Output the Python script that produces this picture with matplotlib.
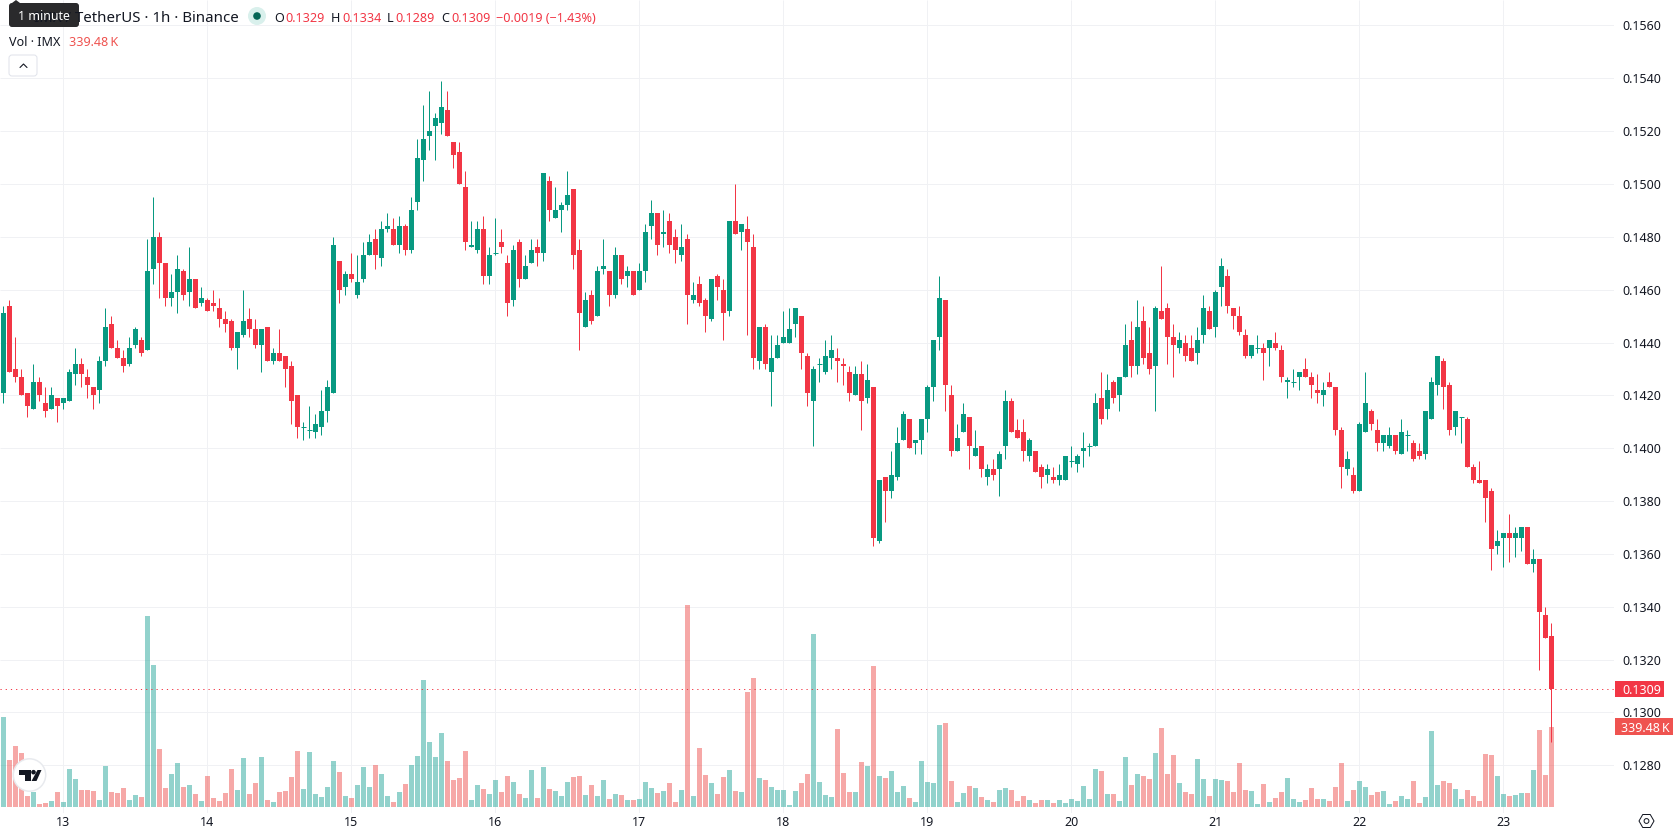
import numpy as np
import matplotlib
matplotlib.use("Agg")
import matplotlib.pyplot as plt
from matplotlib.patches import Circle, FancyBboxPatch, Polygon, Rectangle, RegularPolygon

plt.rcParams["font.family"] = ["Noto Sans", "DejaVu Sans"]

opens = [
    0.1421, 0.1454, 0.1430, 0.1427, 0.1421, 0.1415, 0.1425, 0.1417, 0.1415, 0.1419,
    0.1417, 0.1418, 0.1428, 0.1432, 0.1427, 0.1423, 0.1422, 0.1433, 0.1447, 0.1438,
    0.1434, 0.1432, 0.1439, 0.1441, 0.1437, 0.1468, 0.1480, 0.1470, 0.1457, 0.1459,
    0.1467, 0.1459, 0.1464, 0.1455, 0.1456, 0.1455, 0.1453, 0.1449, 0.1448, 0.1438,
    0.1443, 0.1449, 0.1445, 0.1439, 0.1446, 0.1433, 0.1436, 0.1435, 0.1431, 0.1420,
    0.1408, 0.1407, 0.1406, 0.1408, 0.1414, 0.1421, 0.1471, 0.1461, 0.1466, 0.1458,
    0.1464, 0.1473, 0.1479, 0.1472, 0.1483, 0.1483, 0.1477, 0.1484, 0.1475, 0.1493,
    0.1509, 0.1518, 0.1522, 0.1523, 0.1528, 0.1516, 0.1512, 0.1499, 0.1476, 0.1475,
    0.1483, 0.1465, 0.1474, 0.1478, 0.1470, 0.1456, 0.1478, 0.1464, 0.1470, 0.1476,
    0.1474, 0.1501, 0.1487, 0.1490, 0.1492, 0.1498, 0.1475, 0.1446, 0.1458, 0.1450,
    0.1468, 0.1467, 0.1458, 0.1473, 0.1465, 0.1467, 0.1460, 0.1467, 0.1484, 0.1489,
    0.1481, 0.1486, 0.1480, 0.1473, 0.1479, 0.1456, 0.1462, 0.1456, 0.1449, 0.1465,
    0.1460, 0.1452, 0.1486, 0.1482, 0.1483, 0.1476, 0.1433, 0.1446, 0.1429, 0.1434,
    0.1440, 0.1440, 0.1447, 0.1450, 0.1435, 0.1418, 0.1432, 0.1429, 0.1434, 0.1434,
    0.1432, 0.1429, 0.1420, 0.1428, 0.1419, 0.1423, 0.1365, 0.1389, 0.1384, 0.1389,
    0.1403, 0.1411, 0.1402, 0.1403, 0.1411, 0.1423, 0.1442, 0.1456, 0.1420, 0.1399,
    0.1406, 0.1412, 0.1397, 0.1401, 0.1389, 0.1392, 0.1392, 0.1401, 0.1418, 0.1407,
    0.1406, 0.1397, 0.1399, 0.1393, 0.1390, 0.1389, 0.1388, 0.1388, 0.1395, 0.1394,
    0.1399, 0.1401, 0.1401, 0.1419, 0.1415, 0.1425, 0.1420, 0.1427, 0.1441, 0.1431,
    0.1448, 0.1436, 0.1431, 0.1452, 0.1453, 0.1442, 0.1438, 0.1440, 0.1438, 0.1436,
    0.1443, 0.1452, 0.1446, 0.1461, 0.1465, 0.1453, 0.1450, 0.1443, 0.1435, 0.1438,
    0.1438, 0.1438, 0.1440, 0.1437, 0.1425, 0.1425, 0.1427, 0.1430, 0.1427, 0.1422,
    0.1420, 0.1425, 0.1423, 0.1407, 0.1392, 0.1390, 0.1384, 0.1406, 0.1414, 0.1407,
    0.1402, 0.1401, 0.1405, 0.1398, 0.1405, 0.1402, 0.1399, 0.1398, 0.1411, 0.1424,
    0.1433, 0.1424, 0.1408, 0.1412, 0.1411, 0.1393, 0.1388, 0.1388, 0.1384, 0.1363,
    0.1366, 0.1368, 0.1366, 0.1366, 0.1370, 0.1356, 0.1358, 0.1337, 0.1329,
]
highs = [
    0.1454, 0.1456, 0.1442, 0.1430, 0.1421, 0.1432, 0.1427, 0.1423, 0.1423, 0.1419,
    0.1419, 0.1430, 0.1438, 0.1434, 0.1430, 0.1423, 0.1435, 0.1453, 0.1450, 0.1441,
    0.1437, 0.1442, 0.1446, 0.1442, 0.1479, 0.1495, 0.1482, 0.1470, 0.1466, 0.1473,
    0.1468, 0.1476, 0.1464, 0.1461, 0.1457, 0.1460, 0.1457, 0.1452, 0.1449, 0.1444,
    0.1460, 0.1453, 0.1449, 0.1445, 0.1446, 0.1438, 0.1445, 0.1435, 0.1433, 0.1420,
    0.1410, 0.1416, 0.1413, 0.1422, 0.1426, 0.1480, 0.1471, 0.1467, 0.1474, 0.1473,
    0.1478, 0.1481, 0.1483, 0.1486, 0.1489, 0.1487, 0.1488, 0.1485, 0.1495, 0.1517,
    0.1530, 0.1535, 0.1527, 0.1539, 0.1535, 0.1516, 0.1516, 0.1505, 0.1486, 0.1486,
    0.1488, 0.1476, 0.1487, 0.1483, 0.1473, 0.1477, 0.1479, 0.1473, 0.1479, 0.1479,
    0.1504, 0.1503, 0.1499, 0.1493, 0.1505, 0.1498, 0.1479, 0.1459, 0.1460, 0.1469,
    0.1479, 0.1467, 0.1476, 0.1473, 0.1469, 0.1467, 0.1470, 0.1485, 0.1494, 0.1489,
    0.1490, 0.1489, 0.1483, 0.1485, 0.1481, 0.1463, 0.1465, 0.1457, 0.1464, 0.1466,
    0.1464, 0.1486, 0.1500, 0.1485, 0.1488, 0.1481, 0.1446, 0.1447, 0.1443, 0.1443,
    0.1452, 0.1453, 0.1453, 0.1450, 0.1436, 0.1431, 0.1434, 0.1441, 0.1443, 0.1438,
    0.1434, 0.1431, 0.1431, 0.1433, 0.1432, 0.1423, 0.1388, 0.1389, 0.1399, 0.1408,
    0.1414, 0.1411, 0.1403, 0.1411, 0.1424, 0.1441, 0.1465, 0.1456, 0.1424, 0.1409,
    0.1417, 0.1412, 0.1407, 0.1401, 0.1394, 0.1396, 0.1399, 0.1422, 0.1419, 0.1411,
    0.1411, 0.1404, 0.1399, 0.1394, 0.1394, 0.1393, 0.1394, 0.1397, 0.1401, 0.1398,
    0.1406, 0.1402, 0.1421, 0.1429, 0.1428, 0.1426, 0.1427, 0.1447, 0.1448, 0.1456,
    0.1454, 0.1446, 0.1454, 0.1469, 0.1455, 0.1447, 0.1444, 0.1443, 0.1443, 0.1446,
    0.1458, 0.1454, 0.1460, 0.1472, 0.1468, 0.1453, 0.1454, 0.1445, 0.1439, 0.1443,
    0.1440, 0.1441, 0.1444, 0.1439, 0.1427, 0.1430, 0.1429, 0.1434, 0.1429, 0.1428,
    0.1425, 0.1429, 0.1423, 0.1408, 0.1399, 0.1393, 0.1410, 0.1429, 0.1415, 0.1411,
    0.1405, 0.1408, 0.1405, 0.1411, 0.1407, 0.1403, 0.1402, 0.1414, 0.1427, 0.1435,
    0.1434, 0.1425, 0.1414, 0.1412, 0.1412, 0.1394, 0.1395, 0.1388, 0.1385, 0.1369,
    0.1368, 0.1375, 0.1370, 0.1370, 0.1370, 0.1362, 0.1358, 0.1340, 0.1334,
]
lows = [
    0.1417, 0.1429, 0.1425, 0.1420, 0.1412, 0.1415, 0.1418, 0.1412, 0.1415, 0.1410,
    0.1415, 0.1418, 0.1424, 0.1423, 0.1419, 0.1415, 0.1417, 0.1431, 0.1438, 0.1434,
    0.1429, 0.1431, 0.1438, 0.1435, 0.1437, 0.1462, 0.1457, 0.1454, 0.1454, 0.1451,
    0.1456, 0.1454, 0.1453, 0.1454, 0.1452, 0.1452, 0.1446, 0.1444, 0.1437, 0.1430,
    0.1442, 0.1442, 0.1438, 0.1429, 0.1433, 0.1432, 0.1433, 0.1423, 0.1409, 0.1404,
    0.1403, 0.1404, 0.1404, 0.1405, 0.1410, 0.1421, 0.1455, 0.1458, 0.1463, 0.1457,
    0.1463, 0.1473, 0.1468, 0.1469, 0.1482, 0.1477, 0.1474, 0.1473, 0.1474, 0.1490,
    0.1501, 0.1513, 0.1509, 0.1519, 0.1518, 0.1506, 0.1500, 0.1475, 0.1476, 0.1474,
    0.1462, 0.1462, 0.1473, 0.1474, 0.1450, 0.1454, 0.1461, 0.1464, 0.1470, 0.1469,
    0.1471, 0.1486, 0.1487, 0.1482, 0.1490, 0.1468, 0.1437, 0.1446, 0.1447, 0.1450,
    0.1466, 0.1454, 0.1457, 0.1462, 0.1461, 0.1458, 0.1460, 0.1463, 0.1479, 0.1473,
    0.1476, 0.1474, 0.1470, 0.1471, 0.1447, 0.1455, 0.1454, 0.1444, 0.1448, 0.1456,
    0.1441, 0.1450, 0.1481, 0.1475, 0.1443, 0.1430, 0.1430, 0.1430, 0.1416, 0.1434,
    0.1440, 0.1440, 0.1442, 0.1430, 0.1416, 0.1401, 0.1425, 0.1428, 0.1430, 0.1425,
    0.1424, 0.1418, 0.1420, 0.1407, 0.1417, 0.1363, 0.1364, 0.1372, 0.1381, 0.1388,
    0.1403, 0.1400, 0.1398, 0.1398, 0.1406, 0.1418, 0.1437, 0.1414, 0.1397, 0.1399,
    0.1406, 0.1392, 0.1397, 0.1389, 0.1386, 0.1388, 0.1382, 0.1396, 0.1406, 0.1404,
    0.1395, 0.1395, 0.1391, 0.1385, 0.1387, 0.1387, 0.1386, 0.1388, 0.1393, 0.1391,
    0.1393, 0.1397, 0.1401, 0.1409, 0.1411, 0.1417, 0.1414, 0.1427, 0.1427, 0.1428,
    0.1432, 0.1428, 0.1414, 0.1449, 0.1432, 0.1427, 0.1436, 0.1433, 0.1433, 0.1432,
    0.1440, 0.1445, 0.1442, 0.1454, 0.1451, 0.1445, 0.1443, 0.1434, 0.1434, 0.1436,
    0.1426, 0.1431, 0.1437, 0.1425, 0.1419, 0.1423, 0.1422, 0.1427, 0.1419, 0.1417,
    0.1416, 0.1423, 0.1405, 0.1385, 0.1390, 0.1383, 0.1384, 0.1406, 0.1407, 0.1399,
    0.1399, 0.1400, 0.1398, 0.1398, 0.1399, 0.1395, 0.1396, 0.1396, 0.1411, 0.1420,
    0.1415, 0.1405, 0.1405, 0.1402, 0.1393, 0.1387, 0.1387, 0.1372, 0.1354, 0.1360,
    0.1355, 0.1357, 0.1359, 0.1361, 0.1356, 0.1353, 0.1316, 0.1328, 0.1289,
]
closes = [
    0.1451, 0.1429, 0.1427, 0.1420, 0.1416, 0.1425, 0.1420, 0.1414, 0.1420, 0.1416,
    0.1419, 0.1429, 0.1432, 0.1428, 0.1424, 0.1420, 0.1433, 0.1446, 0.1438, 0.1434,
    0.1431, 0.1438, 0.1445, 0.1436, 0.1467, 0.1480, 0.1470, 0.1457, 0.1459, 0.1468,
    0.1458, 0.1464, 0.1453, 0.1457, 0.1452, 0.1454, 0.1449, 0.1447, 0.1438, 0.1444,
    0.1448, 0.1445, 0.1439, 0.1445, 0.1433, 0.1436, 0.1433, 0.1430, 0.1418, 0.1408,
    0.1408, 0.1407, 0.1409, 0.1414, 0.1423, 0.1477, 0.1460, 0.1466, 0.1464, 0.1463,
    0.1473, 0.1478, 0.1473, 0.1483, 0.1484, 0.1477, 0.1484, 0.1475, 0.1490, 0.1510,
    0.1517, 0.1520, 0.1525, 0.1529, 0.1518, 0.1511, 0.1500, 0.1478, 0.1477, 0.1483,
    0.1465, 0.1473, 0.1474, 0.1476, 0.1455, 0.1475, 0.1464, 0.1469, 0.1475, 0.1474,
    0.1504, 0.1490, 0.1490, 0.1492, 0.1496, 0.1473, 0.1451, 0.1456, 0.1448, 0.1467,
    0.1469, 0.1458, 0.1473, 0.1464, 0.1467, 0.1458, 0.1467, 0.1482, 0.1489, 0.1477,
    0.1482, 0.1477, 0.1475, 0.1476, 0.1458, 0.1458, 0.1455, 0.1450, 0.1464, 0.1461,
    0.1451, 0.1486, 0.1481, 0.1485, 0.1478, 0.1434, 0.1446, 0.1432, 0.1434, 0.1439,
    0.1442, 0.1445, 0.1453, 0.1436, 0.1421, 0.1430, 0.1432, 0.1435, 0.1437, 0.1433,
    0.1431, 0.1421, 0.1428, 0.1418, 0.1426, 0.1366, 0.1388, 0.1384, 0.1390, 0.1402,
    0.1413, 0.1400, 0.1403, 0.1411, 0.1423, 0.1441, 0.1457, 0.1424, 0.1399, 0.1404,
    0.1413, 0.1401, 0.1400, 0.1392, 0.1392, 0.1390, 0.1398, 0.1418, 0.1406, 0.1404,
    0.1399, 0.1403, 0.1391, 0.1389, 0.1392, 0.1388, 0.1390, 0.1397, 0.1395, 0.1397,
    0.1400, 0.1401, 0.1417, 0.1411, 0.1422, 0.1419, 0.1427, 0.1439, 0.1431, 0.1446,
    0.1434, 0.1430, 0.1453, 0.1449, 0.1442, 0.1439, 0.1441, 0.1435, 0.1433, 0.1441,
    0.1453, 0.1445, 0.1459, 0.1469, 0.1454, 0.1450, 0.1444, 0.1435, 0.1439, 0.1438,
    0.1436, 0.1441, 0.1438, 0.1427, 0.1426, 0.1425, 0.1429, 0.1427, 0.1424, 0.1421,
    0.1422, 0.1423, 0.1407, 0.1393, 0.1396, 0.1384, 0.1409, 0.1417, 0.1409, 0.1402,
    0.1405, 0.1405, 0.1399, 0.1406, 0.1405, 0.1396, 0.1397, 0.1414, 0.1425, 0.1435,
    0.1423, 0.1407, 0.1414, 0.1412, 0.1393, 0.1388, 0.1387, 0.1381, 0.1362, 0.1365,
    0.1368, 0.1366, 0.1368, 0.1370, 0.1356, 0.1358, 0.1338, 0.1328, 0.1309,
]
# volume per candle, thousands
volumes = [
    382, 199, 258, 229, 45, 64, 11, 16, 24, 62,
    20, 160, 118, 71, 71, 67, 28, 173, 62, 58,
    80, 28, 50, 41, 812, 604, 246, 80, 139, 186,
    84, 92, 54, 24, 131, 37, 24, 58, 160, 71,
    207, 54, 101, 212, 28, 20, 62, 67, 126, 237,
    75, 233, 54, 41, 84, 195, 148, 45, 37, 92,
    169, 84, 178, 139, 45, 20, 62, 97, 178, 216,
    540, 275, 212, 314, 195, 114, 122, 237, 28, 92,
    75, 54, 114, 62, 131, 105, 54, 37, 156, 37,
    169, 75, 67, 45, 105, 126, 131, 50, 92, 45,
    114, 33, 54, 50, 28, 28, 33, 105, 80, 58,
    67, 101, 20, 71, 859, 45, 250, 135, 101, 54,
    126, 156, 67, 62, 488, 548, 122, 114, 84, 71,
    71, 7, 67, 101, 139, 736, 105, 50, 41, 331,
    143, 62, 62, 190, 173, 599, 131, 122, 152, 62,
    88, 37, 20, 195, 105, 101, 348, 356, 109, 20,
    58, 88, 80, 41, 28, 20, 71, 80, 71, 24,
    45, 28, 16, 28, 28, 16, 28, 16, 33, 24,
    88, 33, 160, 152, 54, 54, 24, 212, 92, 139,
    131, 118, 229, 335, 139, 220, 101, 62, 54, 203,
    118, 45, 118, 114, 109, 62, 186, 71, 67, 11,
    97, 20, 37, 62, 122, 33, 20, 28, 80, 33,
    33, 24, 84, 186, 24, 71, 109, 84, 50, 62,
    67, 11, 24, 45, 33, 109, 16, 41, 322, 92,
    109, 101, 75, 33, 71, 45, 24, 224, 220, 131,
    54, 45, 50, 58, 58, 156, 327, 135, 339.48,
]
price_ticks = [0.1560, 0.1540, 0.1520, 0.1500, 0.1480, 0.1460, 0.1440, 0.1420,
               0.1400, 0.1380, 0.1360, 0.1340, 0.1320, 0.1300, 0.1280]
day_labels = ["13", "14", "15", "16", "17", "18", "19", "20", "21", "22", "23"]
bold_days = ["15", "22"]
first_day_candle = 10
candles_per_day = 24
last_price = closes[-1]

W, H = 1678, 835
UP = "#089981"
DOWN = "#F23645"
VOL_UP = "#26A69A"
VOL_DOWN = "#EF5350"
GRID = "#F0F1F4"
TEXT = "#131722"
PX = 0.72  # one pixel in points at dpi 100

opens, highs, lows, closes = map(np.array, (opens, highs, lows, closes))
volumes = np.array(volumes)
x = np.arange(len(closes))
rising = closes >= opens

fig = plt.figure(figsize=(W / 100, H / 100), dpi=100, facecolor="white")
pane_right, pane_bottom = 1614, 813
rect = [0, 1 - pane_bottom / H, pane_right / W, pane_bottom / H]

# volume goes underneath, candles on a transparent pane above it
ax_vol = fig.add_axes(rect)
ax = fig.add_axes(rect, sharex=ax_vol)
ax.patch.set_visible(False)
for a in (ax, ax_vol):
    for s in a.spines.values():
        s.set_visible(False)

# first candle centre just under 3.5 px so wicks snap onto the body middle
ax.set_xlim(-3.4 / 6, (pane_right - 3.4) / 6)
ax.set_ylim(0.126197, 0.15696)
ax_vol.set_ylim(-27, 3437)

# grid
day_pos = [first_day_candle + candles_per_day * k for k in range(len(day_labels))]
ax_vol.vlines(day_pos, 0, 1, transform=ax_vol.get_xaxis_transform(), color=GRID, lw=PX, zorder=0)
ax_vol.hlines(price_ticks, 0, 1, transform=ax.get_yaxis_transform(), color=GRID, lw=PX, zorder=0)

ax_vol.bar(x, volumes, width=5 / 6, linewidth=0, zorder=2, alpha=0.5,
           color=[VOL_UP if r else VOL_DOWN for r in rising])

colors = np.array([UP if r else DOWN for r in rising])
ax.vlines(x, lows, highs, colors=colors, lw=PX, zorder=3)
ax.bar(x, closes - opens, bottom=opens, width=5 / 6, linewidth=0, color=colors, zorder=4)
doji = closes == opens
ax.hlines(opens[doji], x[doji] - 2.5 / 6, x[doji] + 2.5 / 6, colors=colors[doji], lw=PX, zorder=4)

ax.axhline(last_price, color=DOWN, lw=PX, dashes=(1.2, 4), zorder=5)

ax_vol.set_yticks([])
ax_vol.tick_params(bottom=False, labelbottom=False)
ax.yaxis.tick_right()
ax.set_yticks(price_ticks, ["%.4f" % p for p in price_ticks])
ax.tick_params(axis="y", length=0, pad=8 * PX, labelsize=12.4 * PX, labelcolor=TEXT)
ax.set_xticks(day_pos, day_labels)
ax.tick_params(axis="x", length=0, pad=2, labelsize=12.4 * PX, labelcolor=TEXT)
for lab in ax.get_xticklabels():
    if lab.get_text() in bold_days:
        lab.set_fontweight("bold")

# price and volume tags sitting on the right scale
tag_t = ax.get_yaxis_transform()
ax.add_patch(Rectangle((1.0006, last_price - 8 / 52.85 * 0.002), 49.5 / pane_right, 16 / 52.85 * 0.002,
                       transform=tag_t, color=DOWN, clip_on=False, zorder=6, lw=0))
ax.text(1 + 8 / pane_right, last_price, "%.4f" % last_price, transform=tag_t, color="white",
        fontsize=12.4 * PX, va="center_baseline", ha="left", zorder=7)
vol_t = ax_vol.get_yaxis_transform()
ax_vol.add_patch(Rectangle((1.0006, volumes[-1] - 8.5 * 4.261), 58 / pane_right, 17 * 4.261,
                           transform=vol_t, color=VOL_DOWN, clip_on=False, zorder=6, lw=0))
ax_vol.text(1 + 7 / pane_right, volumes[-1], "%.2f\u2009K" % volumes[-1], transform=vol_t, color="white",
            fontsize=12.4 * PX, va="center_baseline", ha="left", zorder=7)

# legend block, logo and small controls, laid out in pixels
ov = fig.add_axes([0, 0, 1, 1], zorder=10)
ov.set_xlim(0, W)
ov.set_ylim(H, 0)
ov.axis("off")

ov.text(239, 16.5, "IMX / TetherUS · 1h · Binance", fontsize=15 * PX, color=TEXT, ha="right", va="center_baseline")
ov.add_patch(Polygon([[12, 3], [16, 0], [20, 3]], color="#2A2A2C", lw=0))
ov.add_patch(FancyBboxPatch((12, 6), 64, 18, boxstyle="round,pad=3,rounding_size=3", fc="#2A2A2C", ec="none"))
ov.text(44, 15.5, "1 minute", fontsize=12.4 * PX, color="white", ha="center", va="center_baseline")

ov.add_patch(Circle((257, 16), 9, fc="#D9F0EC", ec="none"))
ov.add_patch(Circle((257, 16), 3.8, fc="#056656", ec="none"))

for lx, name, vx, val in [(274, "O", 285, opens[-1]), (331, "H", 342, highs[-1]),
                          (387, "L", 395, lows[-1]), (441, "C", 451, closes[-1])]:
    ov.text(lx, 16.5, name, fontsize=12.6 * PX, color=TEXT, va="center_baseline")
    ov.text(vx, 16.5, "%.4f" % val, fontsize=12.6 * PX, color=DOWN, va="center_baseline")
ov.text(496, 16.5, "\u22120.0019 (\u22121.43%)", fontsize=12.6 * PX, color=DOWN, va="center_baseline")

ov.text(9, 40.5, "Vol · IMX", fontsize=12.6 * PX, color=TEXT, va="center_baseline")
ov.text(69, 40.5, "%.2f\u2009K" % volumes[-1], fontsize=12.6 * PX, color=VOL_DOWN, va="center_baseline")

ov.add_patch(FancyBboxPatch((11, 57), 24, 17, boxstyle="round,pad=2,rounding_size=3", fc="white", ec="#E0E3EB", lw=PX))
ov.plot([20, 23.5, 27], [67.5, 64, 67.5], color=TEXT, lw=1.1 * PX, solid_capstyle="round")

# chart logo
ov.add_patch(Circle((29.5, 775), 16.2, fc="white", ec="#E8EAEE", lw=1.5 * PX))
ov.add_patch(Polygon([[18.5, 770], [31, 770], [31, 781], [25, 781], [25, 774.5], [18.5, 774.5]], color="#131722", lw=0))
ov.add_patch(Circle((33.5, 772.2), 2.3, fc="#131722", ec="none"))
ov.add_patch(Polygon([[37.5, 770], [41.5, 770], [36.5, 781], [31.5, 781]], color="#131722", lw=0))

# settings button
ov.add_patch(RegularPolygon((1646.5, 821), 6, radius=7.5, orientation=np.pi / 6, fc="white", ec=TEXT, lw=PX))
ov.add_patch(Circle((1646.5, 821), 2.4, fc="white", ec=TEXT, lw=PX))

fig.savefig("out.png", dpi=100, facecolor="white")
